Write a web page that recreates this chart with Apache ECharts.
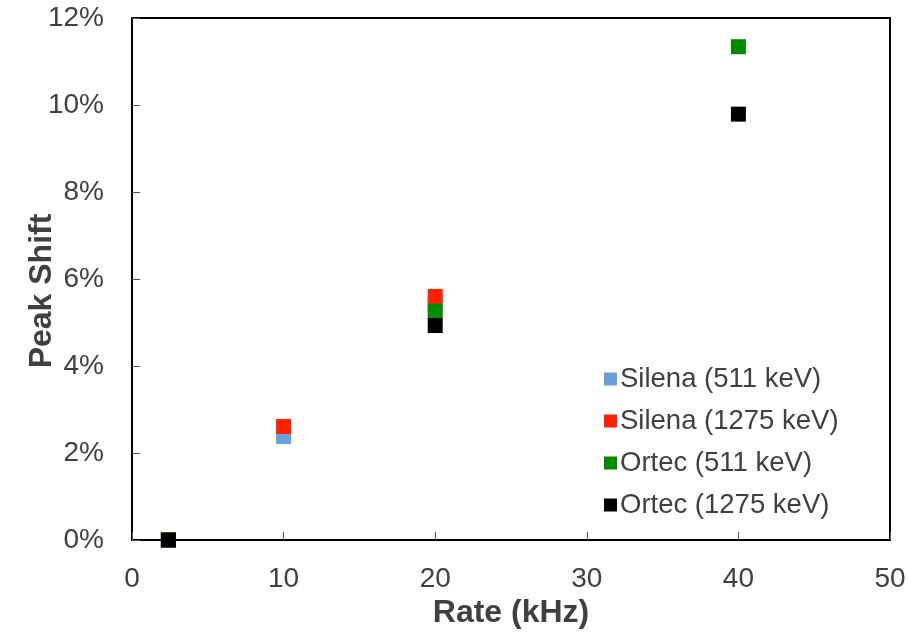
<!DOCTYPE html>
<html>
<head>
<meta charset="utf-8">
<script src="https://cdn.jsdelivr.net/npm/echarts@6/dist/echarts.min.js"></script>
<style>
html, body { margin: 0; padding: 0; background: #fff; }
#chart { width: 908px; height: 637px; }
</style>
</head>
<body>
<div id="chart"></div>
<script>
// rate (kHz) and peak shift (%) for each detector / line
var silena511 = [[2.4, 0], [10, 2.38], [20, 5.45]];
var silena1275 = [[2.4, 0], [10, 2.61], [20, 5.6]];
var ortec511 = [[2.4, 0], [20, 5.26], [40, 11.34]];
var ortec1275 = [[2.4, 0], [20, 4.93], [40, 9.79]];
var seriesNames = ['Silena (511 keV)', 'Silena (1275 keV)', 'Ortec (511 keV)', 'Ortec (1275 keV)'];
var seriesColors = ['#6a9fdc', '#ff2200', '#008a00', '#000000'];

var myChart = echarts.init(document.getElementById('chart'));
var font = 'Liberation Sans, Arial, sans-serif';

function pts(i, data) {
	return {
		name: seriesNames[i],
		type: 'scatter',
		symbol: 'rect',
		symbolSize: 15,
		data: data,
		itemStyle: { color: seriesColors[i], opacity: 1 },
		z: 2 + i
	};
}

option = {
	animation: false,
	grid: {
		left: 132, right: 18, top: 18, bottom: 97,
		outerBoundsMode: 'none',
		containLabel: false,
		show: true, borderColor: '#000', borderWidth: 2
	},
	legend: {
		orient: 'vertical',
		left: 599,
		top: 360,
		itemWidth: 13,
		itemHeight: 13,
		itemGap: 14,
		icon: 'rect',
		data: seriesNames,
		itemStyle: { opacity: 1 },
		textStyle: { fontFamily: font, fontSize: 27.5, color: '#404040', padding: [0, 0, 0, -2] }
	},
	xAxis: {
		type: 'value',
		min: 0, max: 50, interval: 10,
		name: 'Rate (kHz)',
		nameLocation: 'middle',
		nameGap: 57,
		nameMoveOverlap: false,
		nameTextStyle: { fontFamily: font, fontSize: 32, fontWeight: 'bold', color: '#404040' },
		axisLine: { show: true, lineStyle: { color: '#000', width: 2 } },
		axisTick: { show: true, inside: true, length: 8, lineStyle: { color: '#555' } },
		axisLabel: { fontFamily: font, fontSize: 28, color: '#404040', margin: 25 },
		splitLine: { show: false }
	},
	yAxis: {
		type: 'value',
		min: 0, max: 12, interval: 2,
		name: 'Peak Shift',
		nameLocation: 'middle',
		nameGap: 74,
		nameMoveOverlap: false,
		nameTextStyle: { fontFamily: font, fontSize: 32, fontWeight: 'bold', color: '#404040', padding: [0, 24, 0, 0] },
		axisLine: { show: true, lineStyle: { color: '#000', width: 2 } },
		axisTick: { show: true, inside: true, length: 8, lineStyle: { color: '#555' } },
		axisLabel: { fontFamily: font, fontSize: 28, color: '#404040', margin: 28, formatter: '{value}%' },
		splitLine: { show: false }
	},
	series: [
		pts(0, silena511),
		pts(1, silena1275),
		pts(2, ortec511),
		pts(3, ortec1275)
	]
};
myChart.setOption(option);
</script>
</body>
</html>
